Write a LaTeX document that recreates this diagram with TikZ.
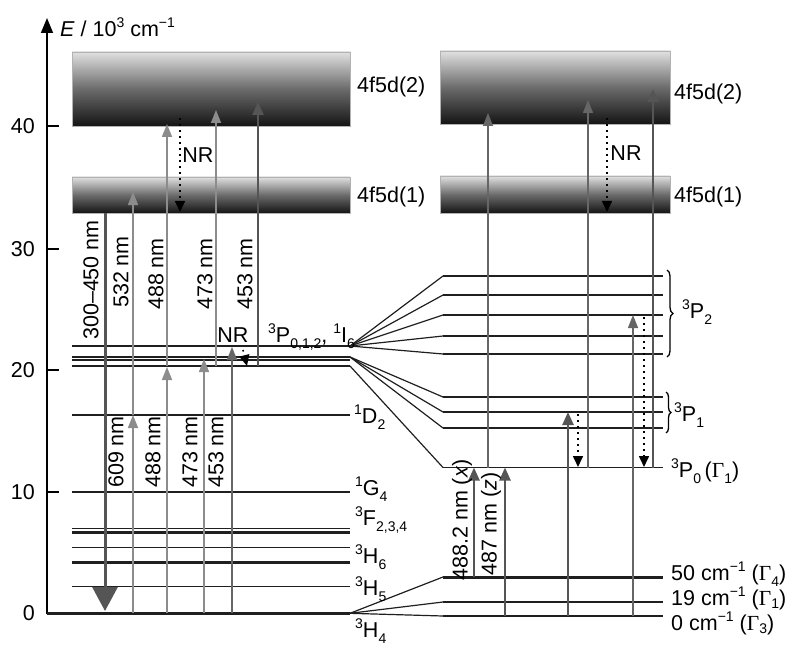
\documentclass[tikz,border=0pt]{standalone}
\usepackage{fontspec}
\setmainfont{Liberation Sans}
\newfontfamily\gfont{Liberation Serif}
\usetikzlibrary{arrows.meta,decorations.pathreplacing}
\definecolor{lg}{HTML}{8C8C8C}
\definecolor{dg}{HTML}{555555}
\definecolor{rg}{HTML}{666666}
\newcommand\myup[1]{\raisebox{0.40em}{\fontsize{14bp}{14bp}\selectfont #1}}
\newcommand\mydn[1]{\raisebox{-0.28em}{\fontsize{14bp}{14bp}\selectfont #1}}
\newcommand\mydnb[1]{\raisebox{-0.18em}{\fontsize{14bp}{14bp}\selectfont #1}}
\tikzset{
 lvl/.style={line width=1.3bp, draw=black!88},
 lvlb/.style={line width=2.6bp, draw=black!88},
 fan/.style={line width=1.2bp, draw=black!88},
 exa/.style={draw=lg, line width=1.6bp, -{Triangle[length=13bp,width=10bp]}},
 exd/.style={draw=dg, line width=2.4bp, -{Triangle[length=13bp,width=11bp]}},
 exr/.style={draw=rg, line width=1.4bp, -{Triangle[length=13bp,width=10bp]}},
 nrar/.style={draw=black, line width=1.6bp, dash pattern=on 1.6bp off 4.4bp, -{Triangle[length=11bp,width=10bp]}},
 band/.style={top color=black!12, bottom color=black!92, middle color=black!58, draw=black!30, line width=0.8bp},
 vlab/.style={rotate=90, inner sep=0pt},
 lab/.style={inner sep=0pt},
}
\begin{document}
\begin{tikzpicture}[x=1bp,y=-1bp,font=\fontsize{21.5bp}{25bp}\selectfont]
\useasboundingbox (0,0) rectangle (787,645);
% axis
\draw[line width=1.6bp,-{Triangle[length=15bp,width=12bp]}] (47,614) -- (47,18);
\node[lab,anchor=west] (elab) at (60,27) {\textit{E} / 10\myup{3} cm\myup{−1}};
\foreach \yy/\tt/\ww in {613/0/2.5,492/10/1.3,370/20/2.5,249/30/1.3,126/40/2.5}{
  \draw[line width=\ww bp] (47,\yy) -- (59,\yy);
  \node[lab,anchor=east] at (35,\yy) {\tt};
}
% bands
\shade[band] (72,52) rectangle (350,126);
\shade[band] (72,177) rectangle (350,213);
\shade[band] (440,51) rectangle (670,124);
\shade[band] (440,176) rectangle (670,213);
\node[lab,anchor=west] (b2l) at (357,87) {4f5d(2)};
\node[lab,anchor=west] (b1l) at (357,197) {4f5d(1)};
\node[lab,anchor=west] (b2r) at (674,94) {4f5d(2)};
\node[lab,anchor=west] (b1r) at (674,197) {4f5d(1)};
% left levels
\draw[lvl] (72,346) -- (350,346);
\draw[line width=2bp,draw=black!88] (72,356.6) -- (350,356.6);
\draw[line width=1.8bp,draw=black!88] (72,360) -- (350,360);
\draw[lvl] (72,366) -- (350,366);
\draw[lvl] (72,415) -- (350,415);
\draw[lvl] (72,492) -- (350,492);
\draw[lvl] (72,528.3) -- (350,528.3);
\draw[lvlb] (72,532.6) -- (350,532.6);
\draw[lvl] (72,547.7) -- (350,547.7);
\draw[lvlb] (72,562.3) -- (350,562.3);
\draw[lvl] (72,586.3) -- (350,586.3);
\draw[lvlb] (47,613.3) -- (350,613.3);
% right levels
\draw[line width=1.8bp,draw=black!88] (443,276) -- (663,276);
\draw[lvlb] (443,295) -- (663,295);
\draw[lvl] (443,315) -- (663,315);
\draw[lvl] (443,336) -- (663,336);
\draw[lvl] (443,354) -- (663,354);
\draw[lvlb] (443,397) -- (663,397);
\draw[lvlb] (443,412) -- (663,412);
\draw[lvlb] (443,428) -- (663,428);
\draw[line width=1.5bp,draw=black!88] (443,467.5) -- (663,467.5);
\draw[line width=3bp,draw=black!88] (443,577) -- (663,577);
\draw[lvl] (443,602) -- (663,602);
\draw[lvl] (443,616) -- (663,616);
% fans
\foreach \yy in {276,295,315,336,354} \draw[fan] (350,346) -- (443,\yy);
\foreach \yy in {397,412,428} \draw[fan] (350,357) -- (443,\yy);
\draw[fan] (350,366) -- (443,467.5);
\foreach \yy in {577,602,616} \draw[fan] (350,613.3) -- (443,\yy);
% level labels left
\node[lab,anchor=base west] (p012) at (268,342) {\myup{3}P\mydn{0,1,2}, \myup{1}I\mydn{6}};
\node[lab,anchor=base west] (d2) at (354,423) {\myup{1}D\mydn{2}};
\node[lab,anchor=base west] (g4) at (355,495) {\myup{1}G\mydn{4}};
\node[lab,anchor=base west] (f234) at (355,525) {\myup{3}F\mydn{2,3,4}};
\node[lab,anchor=base west] (h6) at (355,563) {\myup{3}H\mydn{6}};
\node[lab,anchor=base west] (h5) at (355,595) {\myup{3}H\mydn{5}};
\node[lab,anchor=base west] (h4) at (355,637) {\myup{3}H\mydn{4}};
% right labels
\draw[line width=1.3bp,decorate,decoration={brace,amplitude=6bp}] (667,270) -- (667,357);
\draw[line width=1.3bp,decorate,decoration={brace,amplitude=5bp}] (666,392) -- (666,433);
\node[lab,anchor=base west] (p2) at (682,318) {\myup{3}P\mydn{2}};
\node[lab,anchor=base west] (p1) at (674,421) {\myup{3}P\mydn{1}};
\node[lab,anchor=base west] (p0) at (671,477) {\myup{3}P\mydn{0}\,({\gfont Γ}\mydn{1})};
\node[lab,anchor=base west] (g50) at (671,580) {50 cm\myup{−1} ({\gfont Γ}\mydn{4})};
\node[lab,anchor=base west] (g19) at (671,605) {19 cm\myup{−1} ({\gfont Γ}\mydnb{1})};
\node[lab,anchor=base west] (g0) at (671,630) {0 cm\myup{−1} ({\gfont Γ}\mydnb{3})};
% left transitions
\draw[draw=dg,line width=3bp,-{Triangle[length=24bp,width=25bp]}] (105,213) -- (105,611);
\draw[exa] (133,613) -- (133,415);
\draw[exa] (133,415) -- (133,192);
\draw[exa] (167,613) -- (167,367);
\draw[exa] (167,366) -- (167,124);
\draw[exa] (204,613) -- (204,359);
\draw[exa] (216,366) -- (216,110);
\draw[draw=rg,line width=1.6bp,-{Triangle[length=13bp,width=10bp]}] (232,613) -- (232,347);
\draw[exd] (258,366) -- (258,102);
\draw[nrar] (180,118) -- (180,212);
\draw[nrar] (243,350) -- (247,366);
\node[lab] (nr1) at (198,155) {NR};
\node[lab] (nr2) at (233,335) {NR};
\node[vlab] at (91,280) {300–450 nm};
\node[vlab] at (121,272) {532 nm};
\node[vlab] at (156,274) {488 nm};
\node[vlab] at (205,274) {473 nm};
\node[vlab] at (245,274) {453 nm};
\node[vlab] at (116,452) {609 nm};
\node[vlab] at (153,452) {488 nm};
\node[vlab] at (190,452) {473 nm};
\node[vlab] at (216,452) {453 nm};
% right transitions
\draw[exd] (474,577) -- (474,467.5);
\draw[exd] (505,616) -- (505,467.5);
\draw[exr] (488,467.5) -- (488,113);
\draw[exr] (588,467.5) -- (588,100);
\draw[exd] (653,467.5) -- (653,89);
\draw[exd] (568,616) -- (568,412);
\draw[exr] (633,616) -- (633,315);
\draw[nrar] (578,414) -- (578,467);
\draw[nrar] (644,317) -- (644,467);
\draw[nrar] (607,118) -- (607,212);
\node[lab] (nr3) at (626,153) {NR};
\node[vlab] at (462,520) {488.2 nm (\textit{x})};
\node[vlab] at (491,524) {487 nm (\textit{z})};
\end{tikzpicture}
\end{document}
